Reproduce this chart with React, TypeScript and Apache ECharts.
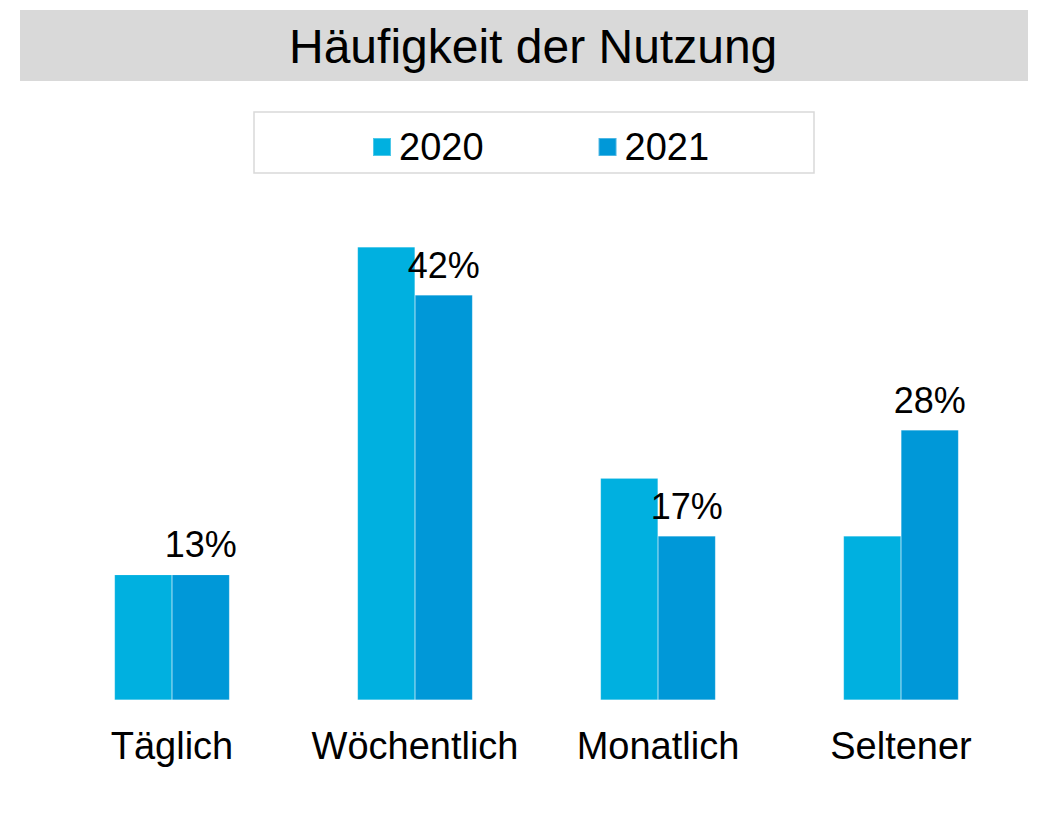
import React, { useEffect, useRef } from "react";
import * as echarts from "echarts";

const categories = ["Täglich", "Wöchentlich", "Monatlich", "Seltener"];
const seriesNames = ["2020", "2021"];
const values2020 = [13, 47, 23, 17];
const values2021 = [13, 42, 17, 28];
const colors = ["#00B0E0", "#0098D8"];

export default function App() {
  const ref = useRef<HTMLDivElement>(null);
  useEffect(() => {
    if (!ref.current) return;
    const chart = echarts.init(ref.current, null, { renderer: "svg" });
    const font = "'Liberation Sans', Arial, sans-serif";
    chart.setOption({
      animation: false,
      textStyle: { fontFamily: font },
      title: {
        text: "Häufigkeit der Nutzung",
        left: 284,
        top: 17,
        textStyle: { fontSize: 48, fontWeight: "normal", color: "#000", fontFamily: font },
      },
      graphic: [
        {
          type: "rect",
          z: -10,
          shape: { x: 20, y: 10, width: 1008, height: 71 },
          style: { fill: "#D9D9D9" },
        },
        {
          type: "rect",
          z: -10,
          shape: { x: 254, y: 112, width: 560, height: 61 },
          style: { fill: "#fff", stroke: "#D9D9D9", lineWidth: 1.5 },
        },
      ],
      legend: {
        data: seriesNames,
        top: 123,
        left: 367,
        icon: "rect",
        itemWidth: 18,
        itemHeight: 18,
        itemGap: 114,
        textStyle: { fontSize: 38, color: "#000", fontFamily: font, padding: [0, 0, 0, 3] },
      },
      grid: { left: 50.5, right: 24.5, top: 218, bottom: 133 },
      xAxis: {
        type: "category",
        data: categories,
        axisLine: { show: false },
        axisTick: { show: false },
        axisLabel: { interval: 0, fontSize: 38, color: "#000", margin: 27, fontFamily: font },
      },
      yAxis: { type: "value", min: 0, max: 50, show: false, splitLine: { show: false } },
      series: [
        {
          name: seriesNames[0],
          type: "bar",
          data: values2020,
          barWidth: 57.5,
          barGap: "0%",
          itemStyle: { color: colors[0], borderColor: "rgba(255,255,255,0.3)", borderWidth: 0.5 },
        },
        {
          name: seriesNames[1],
          type: "bar",
          data: values2021,
          barWidth: 57.5,
          barGap: "0%",
          itemStyle: { color: colors[1], borderColor: "rgba(255,255,255,0.3)", borderWidth: 0.5 },
          label: {
            show: true,
            position: "top",
            distance: 12,
            formatter: "{c}%",
            fontSize: 36,
            color: "#000",
            fontFamily: font,
          },
        },
      ],
    });
    return () => chart.dispose();
  }, []);
  return (
    <div
      ref={ref}
      style={{ position: "fixed", left: 0, top: 0, width: 1047, height: 833, background: "#fff" }}
    />
  );
}
